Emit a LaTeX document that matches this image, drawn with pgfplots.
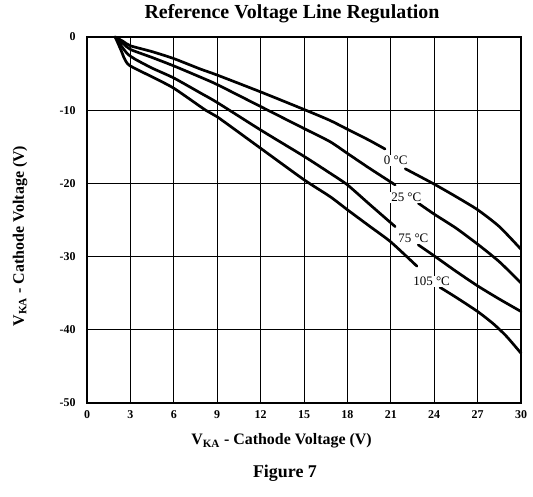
\documentclass[border=0pt]{standalone}
\usepackage{fontspec}
\setmainfont{Liberation Serif}
\usepackage{pgfplots}
\pgfplotsset{compat=1.18}
\tikzset{curve/.style={black, solid, line width=2.7bp, smooth, tension=0.4, line cap=round}}

\begin{document}
\begin{tikzpicture}
\begin{axis}[
  scale only axis, width=434bp, height=366bp,
  xmin=0, xmax=30, ymin=-50, ymax=0,
  xtick={0,3,...,30}, ytick={-50,-40,...,0},
  grid=major, major grid style={black, line width=0.9bp},
  axis line style={line width=2.2bp},
  major tick length=0pt,
  /pgf/number format/assume math mode=true,
  ticklabel style={font=\bfseries\fontsize{12}{14}\selectfont},
  xticklabel style={yshift=-4bp},
  yticklabel style={xshift=-8bp},
  clip=false,
]
% 0 C
\addplot[curve] coordinates {(1.95,0) (2.5,-0.6) (3,-1.2) (4.5,-2.0) (6,-2.95) (7.8,-4.35) (9,-5.2) (12,-7.5) (15,-9.9) (16.8,-11.4) (18,-12.6) (19.5,-14.1) (20.6,-15.3)};
\addplot[curve] coordinates {(22,-18.0) (24,-20.1) (25.5,-21.8) (27,-23.6) (28.5,-25.9) (30,-29.0)};
% 25 C
\addplot[curve] coordinates {(1.95,0) (2.5,-0.9) (3,-1.7) (4.5,-2.8) (6,-3.95) (7.8,-5.45) (9,-6.5) (12,-9.5) (15,-12.5) (16.8,-14.3) (18,-15.9) (19.5,-17.9) (21.3,-20.2)};
\addplot[curve] coordinates {(22.9,-22.7) (24,-24.2) (25.5,-26.1) (27,-28.3) (28.5,-30.7) (30,-33.6)};
% 75 C
\addplot[curve] coordinates {(1.95,0) (2.4,-1.3) (2.8,-2.3) (3.3,-3.0) (4.5,-4.25) (6,-5.6) (7.8,-7.6) (9,-8.95) (12,-12.7) (15,-16.3) (16.8,-18.6) (18,-20.2) (19.5,-22.8) (21.3,-25.9)};
\addplot[curve] coordinates {(22.9,-28.4) (24,-29.9) (25.5,-32.0) (27,-34.0) (28.5,-35.8) (30,-37.5)};
% 105 C
\addplot[curve] coordinates {(1.95,0) (2.35,-1.8) (2.6,-3.0) (2.95,-3.9) (4.5,-5.45) (6,-7.0) (8.2,-10.0) (9,-10.9) (12,-15.2) (15,-19.5) (16.8,-21.8) (18,-23.6) (19.5,-25.8) (21,-28.0) (22.8,-31.3)};
\addplot[curve] coordinates {(24.4,-34.2) (25.5,-35.55) (27,-37.5) (28.1,-39.2) (29,-40.9) (30,-43.2)};

\begin{scope}[every node/.style={fill=white, inner sep=1bp, font=\fontsize{13}{15}\selectfont}]
\node at (axis cs:21.34,-16.9) {0 °C};
\node at (axis cs:22.07,-21.9) {25 °C};
\node at (axis cs:22.56,-27.5) {75 °C};
\node at (axis cs:23.82,-33.4) {105 °C};
\end{scope}

\node[font=\bfseries\fontsize{20}{24}\selectfont] at ([shift={(205bp,389bp)}]rel axis cs:0,0) {Reference Voltage Line Regulation};
\node[font=\bfseries\fontsize{16}{19}\selectfont] at ([shift={(194.5bp,-38bp)}]rel axis cs:0,0) {V\textsubscript{KA} - Cathode Voltage (V)};
\node[font=\bfseries\fontsize{18}{22}\selectfont] at ([shift={(198bp,-70.5bp)}]rel axis cs:0,0) {Figure 7};
\node[rotate=90, font=\bfseries\fontsize{16}{19}\selectfont] at ([shift={(-67bp,167bp)}]rel axis cs:0,0) {V\textsubscript{KA} - Cathode Voltage (V)};

\path ([shift={(-87bp,-94bp)}]rel axis cs:0,0) rectangle ++(533bp,497bp);
\end{axis}
\end{tikzpicture}
\end{document}
